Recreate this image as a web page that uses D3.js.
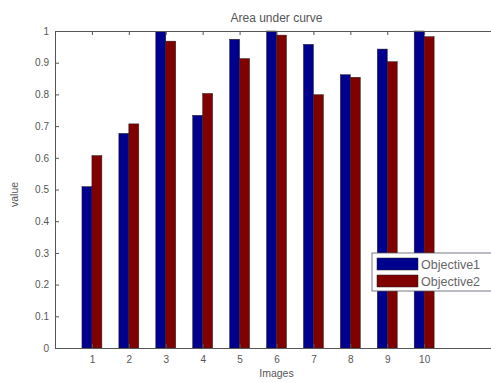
<!DOCTYPE html>
<html lang="en">
<head>
    <meta charset="utf-8">
    <title>Area under curve</title>
    <script src="https://cdnjs.cloudflare.com/ajax/libs/d3/7.8.5/d3.min.js"></script>
    <style>
        body { margin: 0; background: #fff; overflow: hidden; }
        svg { display: block; overflow: hidden; font-family: "Liberation Sans", Arial, sans-serif; }
        .tick text { fill: #555; font-size: 10px; }
    </style>
</head>
<body>
    <svg id="chart"></svg>
    <script>
        // Data
        const images = [1, 2, 3, 4, 5, 6, 7, 8, 9, 10];
        const objective1 = [0.509, 0.677, 0.998, 0.734, 0.974, 1.0, 0.958, 0.862, 0.943, 1.0];
        const objective2 = [0.607, 0.707, 0.968, 0.803, 0.913, 0.987, 0.799, 0.854, 0.903, 0.982];
        const seriesNames = ['Objective1', 'Objective2'];
        const seriesColors = ['#00008f', '#800000'];
        const yTicks = [0, 0.1, 0.2, 0.3, 0.4, 0.5, 0.6, 0.7, 0.8, 0.9, 1];

        const width = 491;
        const height = 383;
        // plot runs past the right edge, the original figure was cropped there
        const margin = { top: 31, right: -7, bottom: 35, left: 55 };

        const svg = d3.select('#chart')
            .attr('width', width)
            .attr('height', height);

        const x = d3.scaleLinear()
            .domain([0, 12])
            .range([margin.left, width - margin.right]);

        const y = d3.scaleLinear()
            .domain([0, 1])
            .range([height - margin.bottom, margin.top]);

        const step = x(1) - x(0);
        const barW = step * 0.27;

        // bars
        const series = [objective1, objective2];
        series.forEach((vals, s) => {
            svg.append('g')
                .selectAll('rect')
                .data(vals)
                .join('rect')
                .attr('x', (d, i) => x(images[i]) - barW + s * barW)
                .attr('y', d => y(d))
                .attr('width', barW)
                .attr('height', d => y(0) - y(d))
                .attr('fill', seriesColors[s])
                .attr('stroke', '#222')
                .attr('stroke-width', 0.5);
        });

        // axes
        const xAxis = d3.axisBottom(x)
            .tickValues(images)
            .tickSizeInner(-4)
            .tickSizeOuter(0)
            .tickPadding(8);
        const gx = svg.append('g')
            .attr('transform', `translate(0,${y(0)})`)
            .call(xAxis);

        const xTop = d3.axisTop(x)
            .tickValues(images)
            .tickSizeInner(-4)
            .tickSizeOuter(0)
            .tickFormat('');
        const gt = svg.append('g')
            .attr('transform', `translate(0,${y(1)})`)
            .call(xTop);

        const yAxis = d3.axisLeft(y)
            .tickValues(yTicks)
            .tickSizeInner(-4)
            .tickSizeOuter(0)
            .tickPadding(6)
            .tickFormat(d => d3.format('~g')(d));
        const gy = svg.append('g')
            .attr('transform', `translate(${x(0)},0)`)
            .call(yAxis);

        [gx, gt, gy].forEach(g => {
            g.selectAll('.domain').attr('stroke', '#555');
            g.selectAll('.tick line').attr('stroke', '#555');
        });

        // title and labels
        svg.append('text')
            .attr('x', (x(0) + x(12)) / 2)
            .attr('y', 22)
            .attr('text-anchor', 'middle')
            .attr('font-size', 12)
            .attr('fill', '#555')
            .text('Area under curve');

        svg.append('text')
            .attr('x', (x(0) + x(12)) / 2)
            .attr('y', 377)
            .attr('text-anchor', 'middle')
            .attr('font-size', 10.5)
            .attr('fill', '#555')
            .text('Images');

        svg.append('text')
            .attr('transform', `translate(18,${(y(0) + y(1)) / 2 + 5}) rotate(-90)`)
            .attr('text-anchor', 'middle')
            .attr('font-size', 10.5)
            .attr('fill', '#555')
            .text('value');

        // legend
        const legend = svg.append('g').attr('transform', 'translate(372,253)');
        legend.append('rect')
            .attr('width', 125)
            .attr('height', 38)
            .attr('fill', '#fff')
            .attr('stroke', '#556')
            .attr('stroke-width', 0.8);
        seriesNames.forEach((name, i) => {
            legend.append('rect')
                .attr('x', 5)
                .attr('y', 5 + i * 17)
                .attr('width', 41)
                .attr('height', 12)
                .attr('fill', seriesColors[i])
                .attr('stroke', '#222')
                .attr('stroke-width', 0.5);
            legend.append('text')
                .attr('x', 49)
                .attr('y', 15.5 + i * 17)
                .attr('font-size', 12.5)
                .attr('fill', '#666')
                .text(name);
        });
    </script>
</body>
</html>
